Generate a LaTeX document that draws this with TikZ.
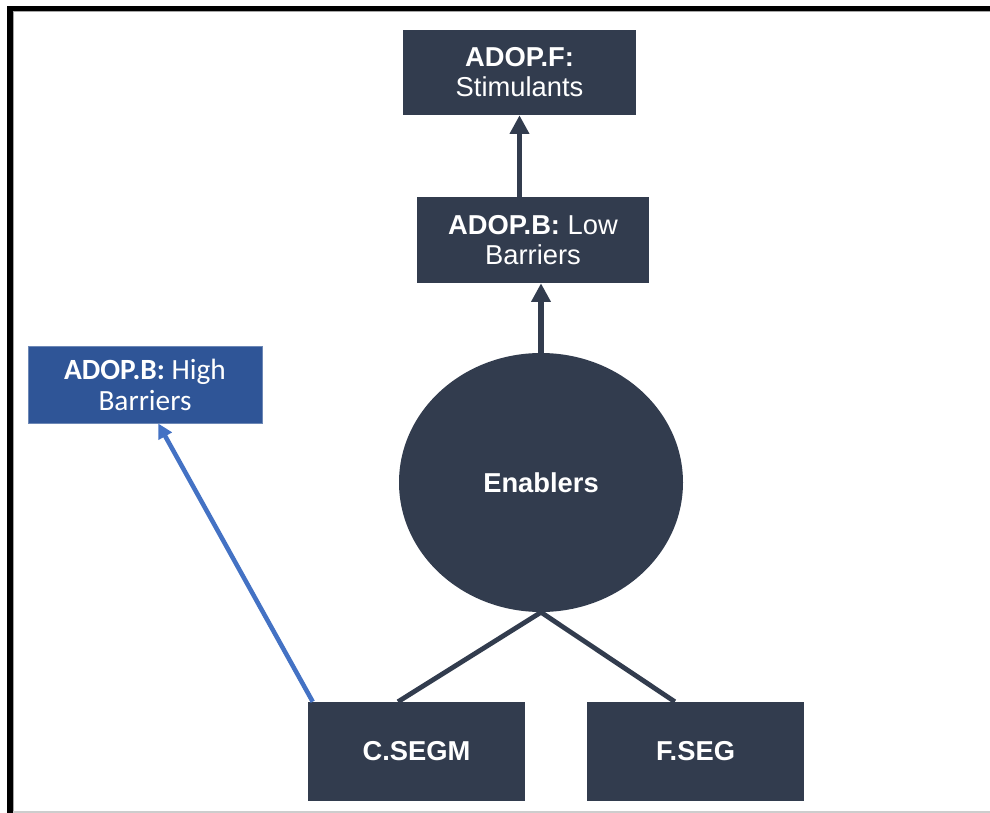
\documentclass[tikz,border=0pt]{standalone}
\usepackage{fontspec}
\setmainfont{Liberation Sans}
\newfontfamily\calib{Carlito}
\usetikzlibrary{arrows.meta,calc,shapes.geometric}

\definecolor{navy}{RGB}{50,60,78}
\definecolor{boxblue}{RGB}{47,85,151}
\definecolor{lineblue}{RGB}{68,114,196}
\definecolor{rule}{RGB}{205,205,205}

\tikzset{
  darkbox/.style={rectangle, fill=navy, text=white, inner sep=0pt, align=center,
    font=\fontsize{20.5}{22.5}\selectfont},
  bluebox/.style={rectangle, fill=boxblue, draw=boxblue!70!white, line width=0.6pt,
    text=white, inner sep=0pt, align=center, font=\calib\fontsize{22}{23.2}\selectfont},
  hub/.style={ellipse, fill=navy, text=white, inner sep=0pt,
    font=\bfseries\fontsize{20.5}{24}\selectfont},
  uparrow/.style={draw=navy, line width=4.2pt, -{Triangle[length=14pt,width=14pt]}},
  link/.style={draw=navy, line width=3.6pt},
  bluearrow/.style={draw=lineblue, line width=3.4pt, -{Triangle[length=11pt,width=11pt]}}
}

\begin{document}
\begin{tikzpicture}[x=0.75pt,y=-0.75pt]
  \useasboundingbox (0,0) rectangle (990,813);
  \fill[white] (0,0) rectangle (990,813);

  % frame: heavy top and left rules, light bottom rule
  \fill[black] (7,6) rectangle (990,11.5);
  \fill[black] (7,6) rectangle (12.5,813);
  \draw[gray!70, line width=0.75pt] (12.5,12) -- (990,12);
  \draw[gray!70, line width=0.75pt] (13,12) -- (13,813);
  \fill[rule] (12.5,810.5) rectangle (990,813);

  % nodes
  \node[darkbox, minimum width=174.75pt, minimum height=63.75pt]
    (stim) at (519.5,72.5) {\textbf{ADOP.F:}\\Stimulants};
  \node[darkbox, minimum width=174pt, minimum height=64.5pt]
    (low) at (533,240) {\textbf{ADOP.B:} Low\\Barriers};
  \node[bluebox, minimum width=175.5pt, minimum height=57.75pt]
    (high) at (145,384.5) {\textbf{ADOP.B:} High\\Barriers};
  \node[hub, minimum width=213pt, minimum height=194.25pt]
    (enab) at (541,482.5) {Enablers};
  \node[darkbox, minimum width=162.75pt, minimum height=74.25pt]
    (cseg) at (416.5,751.5) {\textbf{C.SEGM}};
  \node[darkbox, minimum width=162.75pt, minimum height=74.25pt]
    (fseg) at (695.5,751.5) {\textbf{F.SEG}};

  % connectors
  \draw[uparrow] (low.north -| stim.south) -- (stim.south);
  \draw[uparrow] (enab.north) -- (enab.north |- low.south);
  \draw[link] (enab.south) -- ($(cseg.north west)!0.415!(cseg.north east)$);
  \draw[link] (enab.south) -- ($(fseg.north west)!0.405!(fseg.north east)$);
  \draw[bluearrow] ($(cseg.north west)+(5,0)$) -- ($(high.south west)!0.556!(high.south east)$);
\end{tikzpicture}
\end{document}
